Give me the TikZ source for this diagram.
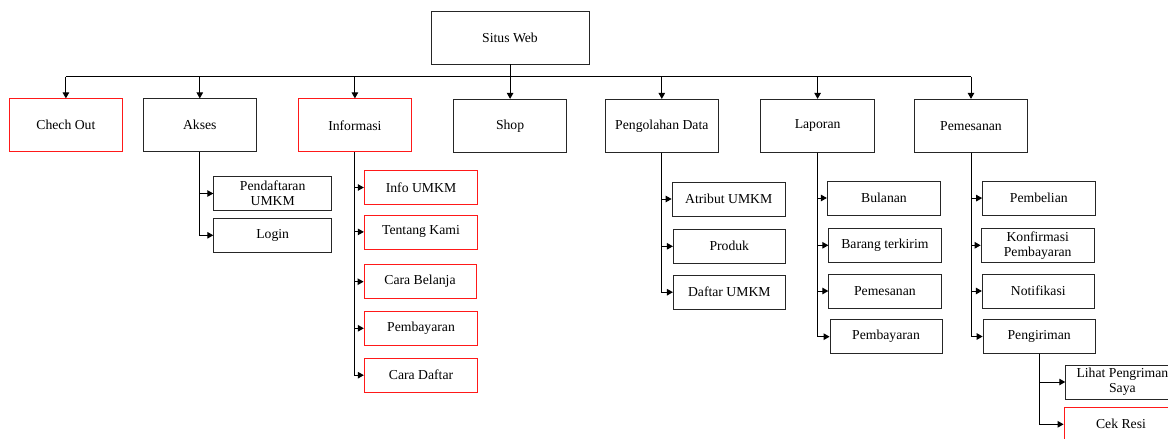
\documentclass[tikz,border=0pt]{standalone}
\usepackage{fontspec}
\setmainfont{Liberation Serif}
\usetikzlibrary{arrows.meta}
\begin{document}
\begin{tikzpicture}[x=1pt,y=-1pt,
  box/.style={draw=black!85, line width=0.8pt, inner sep=0pt, align=center,
    font=\fontsize{13.7}{15}\selectfont, minimum width=113.5pt, minimum height=34pt},
  topbox/.style={box, minimum height=53pt},
  redbox/.style={draw=red!90},
  conn/.style={line width=1pt, black},
  arr/.style={conn, -{Triangle[length=6pt,width=6.5pt]}}]
\useasboundingbox (0,0) rectangle (1168,439);
\clip (0,0) rectangle (1168,439);
% root
\node[box, minimum width=158pt, minimum height=52.3pt] (sw) at (510,37.9) {Situs Web};
% top row
\node[topbox, redbox] (co) at (65.9,125.3) {Chech Out};
\node[topbox] (ak) at (199.8,125.3) {Akses};
\node[topbox, redbox] (inf) at (354.9,125.3) {Informasi};
\node[topbox] (sh) at (510.1,125.8) {Shop};
\node[topbox] (pd) at (661.8,125.8) {Pengolahan Data};
\node[topbox] (lp) at (817.6,125.8) {Laporan};
\node[topbox] (pm) at (971,125.8) {Pemesanan};
% bus
\coordinate (bus) at (0,76.7);
\draw[conn] (sw.south) -- (sw.south |- bus);
\draw[conn] (co.north |- bus) -- (pm.north |- bus);
\foreach \n in {co,ak,inf,sh,pd,lp,pm}
  \draw[arr] (\n.north |- bus) -- (\n.north);
% Akses children
\node[box, minimum width=118pt, minimum height=34.4pt] (a1) at (272.7,193.5) {Pendaftaran\\UMKM};
\node[box, minimum width=118pt] (a2) at (272.7,235.3) {Login};
\foreach \c in {a1,a2} \draw[arr] (ak.south) |- (\c.west);
% Informasi children
\node[box, redbox] (i1) at (421,187.5) {Info UMKM};
\node[box, redbox] (i2) at (421,231.9) {Tentang Kami};
\node[box, redbox, minimum width=112pt] (i3) at (420,281.7) {Cara Belanja};
\node[box, redbox] (i4) at (421,328.3) {Pembayaran};
\node[box, redbox] (i5) at (421,375.2) {Cara Daftar};
\foreach \c in {i1,i2,i3,i4,i5} \draw[arr] (inf.south) |- (\c.west);
% Pengolahan Data children
\node[box, minimum width=113.3pt] (p1) at (728.7,199) {Atribut UMKM};
\node[box, minimum width=112pt] (p2) at (729.3,246.3) {Produk};
\node[box, minimum width=112pt] (p3) at (729.3,292.2) {Daftar UMKM};
\foreach \c in {p1,p2,p3} \draw[arr] (pd.south) |- (\c.west);
% Laporan children
\node[box, minimum width=113.4pt] (l1) at (884,198) {Bulanan};
\node[box, minimum width=112.3pt] (l2) at (884.9,245.3) {Barang terkirim};
\node[box, minimum width=112.3pt] (l3) at (884.9,291) {Pemesanan};
\node[box, minimum width=112pt] (l4) at (886,336.7) {Pembayaran};
\foreach \c in {l1,l2,l3,l4} \draw[arr] (lp.south) |- (\c.west);
% Pemesanan children
\node[box, minimum width=112.5pt] (m1) at (1038.8,198.1) {Pembelian};
\node[box, minimum width=113.3pt] (m2) at (1037.7,245.3) {Konfirmasi\\Pembayaran};
\node[box, minimum width=112pt] (m3) at (1038.3,291) {Notifikasi};
\node[box, minimum width=112.3pt] (m4) at (1039.2,336.5) {Pengiriman};
\foreach \c in {m1,m2,m3,m4} \draw[arr] (pm.south) |- (\c.west);
% Pengiriman children
\node[box, minimum width=113.5pt] (s1) at (1122.4,382) {Lihat Pengriman\\Saya};
\node[box, redbox, minimum width=114pt] (s2) at (1121,424.3) {Cek Resi};
\foreach \c in {s1,s2} \draw[arr] (m4.south) |- (\c.west);
\end{tikzpicture}
\end{document}
